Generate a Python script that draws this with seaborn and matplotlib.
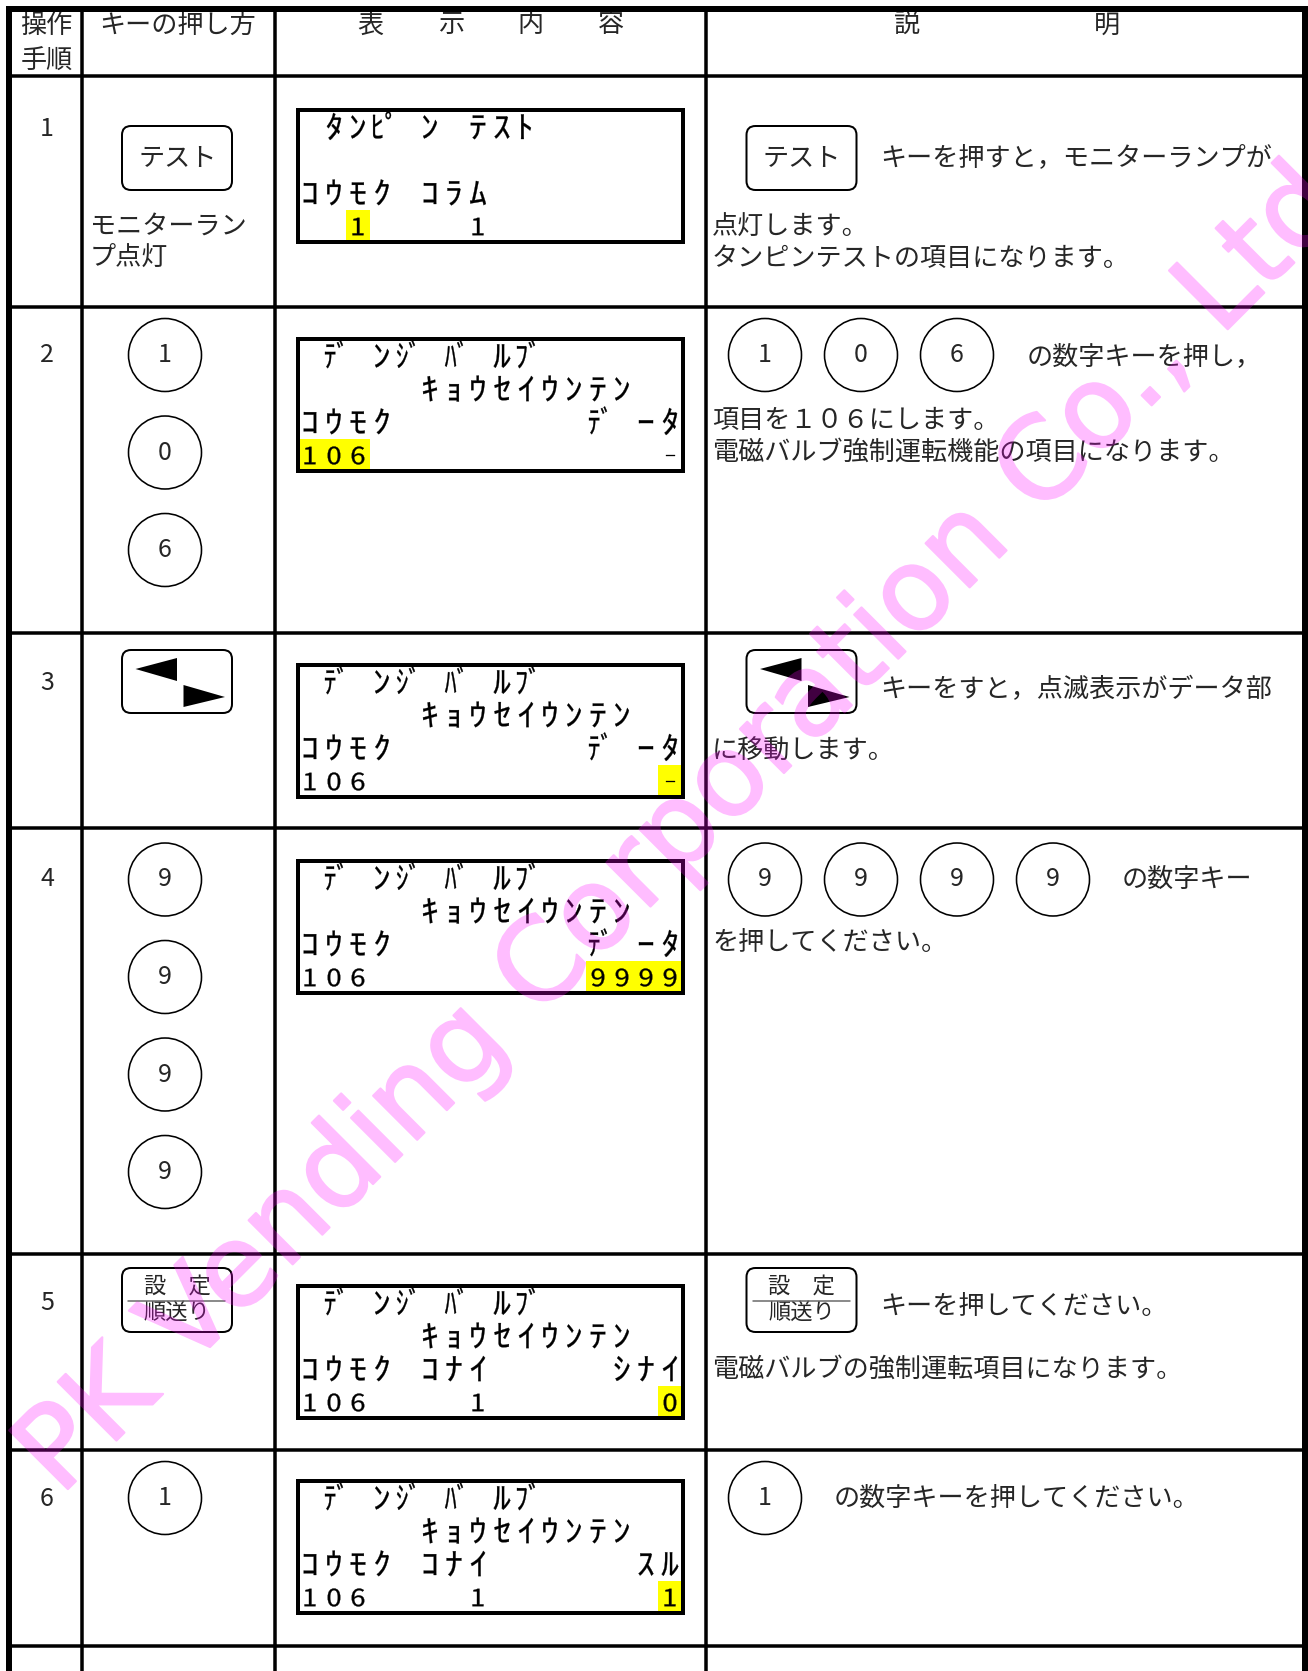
import numpy as np
import matplotlib
matplotlib.use("Agg")
import matplotlib.pyplot as plt
import seaborn as sns
from matplotlib import patheffects
from matplotlib.patches import Rectangle, Circle, FancyBboxPatch, Polygon, PathPatch
from matplotlib.textpath import TextPath
from matplotlib.font_manager import FontProperties
from matplotlib.transforms import Affine2D

# ---------------- table content ----------------
head_step = ['操作', '手順']
head_key = 'キーの押し方'
head_disp = ['表', '示', '内', '容']
head_desc = ['説', '明']

steps = ['1', '2', '3', '4', '5', '6']

# key pressed in each step
keys = ['テスト', ['1', '0', '6'], 'arrows', ['9', '9', '9', '9'], 'settei', ['1']]
key_note = ['モニターラン', 'プ点灯']

# LCD screen, 4 lines x 16 cells (dakuten shares the cell)
lcd_top = ' ﾃﾞ ﾝｼﾞ ﾊﾞ ﾙﾌﾞ'
lcd_mid = '     ｷｮｳｾｲｳﾝﾃﾝ'
lcd = [
    [' ﾀﾝﾋﾟ ﾝ ﾃｽﾄ', '', 'ｺｳﾓｸ ｺﾗﾑ', '  1    1'],
    [lcd_top, lcd_mid, 'ｺｳﾓｸ        ﾃﾞ ｰﾀ', '106            -'],
    [lcd_top, lcd_mid, 'ｺｳﾓｸ        ﾃﾞ ｰﾀ', '106            -'],
    [lcd_top, lcd_mid, 'ｺｳﾓｸ        ﾃﾞ ｰﾀ', '106         9999'],
    [lcd_top, lcd_mid, 'ｺｳﾓｸ ｺﾅｲ     ｼﾅｲ', '106    1       0'],
    [lcd_top, lcd_mid, 'ｺｳﾓｸ ｺﾅｲ      ｽﾙ', '106    1       1'],
]
blink_cell = [2, 0, 15, 12, 15, 15]
blink_len = [1, 3, 1, 4, 1, 1]

desc_first = ['キーを押すと，モニターランプが', 'の数字キーを押し，',
              'キーをすと，点滅表示がデータ部', 'の数字キー',
              'キーを押してください。', 'の数字キーを押してください。']
desc_more = [['点灯します。', 'タンピンテストの項目になります。'],
             ['項目を１０６にします。', '電磁バルブ強制運転機能の項目になります。'],
             ['に移動します。'],
             ['を押してください。'],
             ['電磁バルブの強制運転項目になります。'],
             []]

watermark = 'PK Vending Corporation Co., Ltd'

# ---------------- layout (pixels) ----------------
W, H = 1308, 1671
PX = 72 / 100
col_x = [81.7, 274.5, 706]
row_y = [75.5, 306.5, 632.5, 828, 1253.5, 1449.5, 1645.5]
step_y = [128.5, 355, 683.5, 879.5, 1303.5, 1499]
key_y = [158, 355, 681.5, 879.5, 1300, 1498]
lcd_y = [110, 339, 665, 861, 1286, 1481]
first_x = [880, 1027, 880, 1122, 880, 834]
first_y = [158, 357, 690, 879, 1307, 1498]
more_y = [[227, 259], [420, 452], [751], [943], [1369], []]
FS = 18.8

sns.set_theme(style="white")
plt.rcParams['font.family'] = ['Noto Sans CJK JP', 'DejaVu Sans']


def page_axes(f):
    a = f.add_axes([0, 0, 1, 1])
    a.set_xlim(0, W)
    a.set_ylim(H, 0)
    a.axis('off')
    return a


fig = plt.figure(figsize=(W / 100, H / 100), dpi=100)
ax = page_axes(fig)

# grid
ax.vlines(col_x, 9, H, color='black', lw=3.5 * PX, zorder=5)
ax.hlines(row_y, 9, 1305, color='black', lw=3.5 * PX, zorder=5)
ax.vlines([9, 1305], 6, H, color='black', lw=6 * PX, zorder=5)
ax.hlines([9], 6, 1308, color='black', lw=6 * PX, zorder=5)

# header
ax.text(46.7, 25, head_step[0], ha='center', va='center', fontsize=FS)
ax.text(46.7, 61, head_step[1], ha='center', va='center', fontsize=FS)
ax.text(178, 25, head_key, ha='center', va='center', fontsize=FS)
for i, ch in enumerate(head_disp):
    ax.text(370.6 + 80 * i, 25, ch, ha='center', va='center', fontsize=FS)
for i, ch in enumerate(head_desc):
    ax.text(907.5 + 199.5 * i, 25, ch, ha='center', va='center', fontsize=FS)


def rbox(x0, yc, w=110, h=64):
    ax.add_patch(FancyBboxPatch((x0, yc - h / 2), w, h,
                                boxstyle='round,pad=0,rounding_size=9',
                                fc='white', ec='black', lw=2 * PX, zorder=3))


def draw_key(kind, x0, yc, cx, pitch_x, pitch_y):
    if isinstance(kind, list):
        for i, d in enumerate(kind):
            x, y = cx + pitch_x * i, yc + pitch_y * i
            ax.add_patch(Circle((x, y), 36.5, fc='white', ec='black', lw=1.6 * PX, zorder=3))
            ax.text(x, y, d, ha='center', va='center', fontsize=18, zorder=4)
    elif kind == 'arrows':
        rbox(x0, yc, h=63)
        t = yc - 31.5
        ax.add_patch(Polygon([(x0 + 13.5, t + 19), (x0 + 55, t + 8), (x0 + 55, t + 31)],
                             closed=True, fc='black', ec='none', zorder=4))
        ax.add_patch(Polygon([(x0 + 61.5, t + 35), (x0 + 61.5, t + 57), (x0 + 103, t + 47)],
                             closed=True, fc='black', ec='none', zorder=4))
    elif kind == 'settei':
        rbox(x0, yc)
        ax.text(x0 + 55, yc - 14, '設　定', ha='center', va='center', fontsize=16, zorder=4)
        ax.text(x0 + 55, yc + 12.5, '順送り', ha='center', va='center', fontsize=16, zorder=4)
        ax.plot([x0 + 6, x0 + 103], [yc + 1, yc + 1], color='#666666', lw=1.5 * PX, zorder=4)
    else:
        rbox(x0, yc)
        ax.text(x0 + 55.5, yc, kind, ha='center', va='center', fontsize=FS, zorder=4)


# LCD glyphs drawn as condensed outlines
fp = FontProperties(family='Noto Sans CJK JP')
ref_k = TextPath((0, 0), 'ｺ', size=100, prop=fp).get_extents()
ref_d = TextPath((0, 0), '0', size=100, prop=fp).get_extents()
scale_k = (12.5 / ref_k.width, 21 / ref_k.height, (ref_k.y0 + ref_k.y1) / 2)
scale_d = (12.5 / ref_d.width, 18 / ref_d.height, (ref_d.y0 + ref_d.y1) / 2)


def lcd_tokens(line):
    toks = []
    for ch in line:
        if ch in 'ﾞﾟ' and toks:
            toks[-1] += ch
        else:
            toks.append(ch)
    return toks


def lcd_glyph(tok, cx, cy):
    p = TextPath((0, 0), tok, size=100, prop=fp)
    sx, sy, mid = scale_d if tok[0] in '0123456789-' else scale_k
    ext = p.get_extents()
    if tok == '-':
        mid = (ext.y0 + ext.y1) / 2
        sx = 9 / ext.width
    if ext.width * sx > 18:
        sx = 18 / ext.width
    tx = cx - (ext.x0 + ext.x1) / 2 * sx
    ty = cy + mid * sy
    tp = Affine2D().scale(sx, -sy).translate(tx, ty).transform_path(p)
    ax.add_patch(PathPatch(tp, fc='black', ec='black', lw=0.3 * PX, zorder=4))


for r in range(6):
    # step number
    ax.text(47, step_y[r], steps[r], ha='center', va='center', fontsize=18)
    # key column
    draw_key(keys[r], 122, key_y[r], 165, 0, 97.5)
    # LCD
    top = lcd_y[r]
    line3 = top + 17.5 + 99
    ax.add_patch(Rectangle((298 + 24 * blink_cell[r], line3 - 17), 24 * blink_len[r],
                           top + 132 - (line3 - 17), fc='#ffff00', ec='none', zorder=2))
    ax.add_patch(Rectangle((298, top), 385, 132, fill=False, ec='black', lw=4 * PX, zorder=3))
    for li, line in enumerate(lcd[r]):
        for ci, tok in enumerate(lcd_tokens(line)):
            if tok.strip():
                lcd_glyph(tok, 310 + 24 * ci, top + 17.5 + 33 * li)
    # description column
    draw_key(keys[r], 746.5, key_y[r], 765, 96, 0)
    ax.text(first_x[r], first_y[r], desc_first[r], ha='left', va='center', fontsize=FS)
    for txt, y in zip(desc_more[r], more_y[r]):
        ax.text(712, y, txt, ha='left', va='center', fontsize=FS)

ax.text(90, 226, key_note[0], ha='left', va='center', fontsize=FS)
ax.text(90, 257.5, key_note[1], ha='left', va='center', fontsize=FS)

# watermark: render the lettering once as a mask (slightly heavier),
# then lay it over the page as translucent magenta
fig_wm = plt.figure(figsize=(W / 100, H / 100), dpi=100, facecolor='white')
ax_wm = page_axes(fig_wm)
ax_wm.text(60, 1497, watermark, rotation=45, rotation_mode='anchor', ha='left', va='baseline',
           fontsize=82, family='DejaVu Sans', color='black',
           path_effects=[patheffects.withStroke(linewidth=1.6, foreground='black')])
fig_wm.canvas.draw()
ink = 1 - np.asarray(fig_wm.canvas.buffer_rgba())[..., 0] / 255.0
plt.close(fig_wm)
wm = np.zeros((H, W, 4))
wm[..., 0] = 1.0
wm[..., 2] = 1.0
wm[..., 3] = ink * 0.26
ax.imshow(wm, extent=(0, W, H, 0), zorder=10, interpolation='nearest')
ax.set_aspect('auto')
ax.set_xlim(0, W)
ax.set_ylim(H, 0)

fig.savefig('out.png', dpi=100)
